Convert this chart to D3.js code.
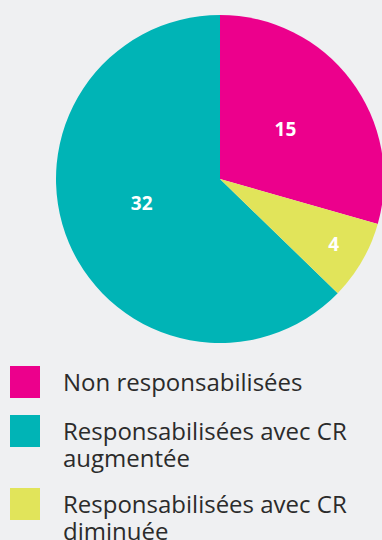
<!DOCTYPE html>
<html>
<head>
<meta charset="utf-8">
<script src="https://cdn.jsdelivr.net/npm/d3@7"></script>
<style>
  body { margin: 0; background: #eff0f2; }
  svg { display: block; }
</style>
</head>
<body>
<div id="chart"></div>
<script>
// data
const categories = ["Non responsabilisées", "Responsabilisées avec CR augmentée", "Responsabilisées avec CR diminuée"];
const values = [15, 32, 4];
const colors = ["#ec008c", "#00b4b6", "#e1e45a"];
// legend labels, split on two lines where the picture does
const legendLines = [["Non responsabilisées"], ["Responsabilisées avec CR", "augmentée"], ["Responsabilisées avec CR", "diminuée"]];
// pie order, clockwise from 12 o'clock
const order = [0, 2, 1];

const width = 382, height = 540;
const cx = 220, cy = 179, radius = 164;

var svg = d3.select("#chart")
    .append("svg")
    .attr("width", width)
    .attr("height", height);

svg.append("rect")
    .attr("width", width)
    .attr("height", height)
    .attr("fill", "#eff0f2");

var pie = d3.pie()
    .sort((a, b) => order.indexOf(a.i) - order.indexOf(b.i))
    .value(d => d.v);

var arcs = pie(values.map((v, i) => ({ v: v, i: i })));

var arc = d3.arc().innerRadius(0).outerRadius(radius);

var g = svg.append("g").attr("transform", "translate(" + cx + "," + cy + ")");

g.selectAll("path")
    .data(arcs)
    .enter().append("path")
    .attr("d", arc)
    .attr("fill", d => colors[d.data.i]);

// small slice gets its label pushed out
g.selectAll("text")
    .data(arcs)
    .enter().append("text")
    .attr("transform", function(d) {
        var r = d.data.v < 8 ? radius * 0.8 : radius * 0.5;
        var a = d3.arc().innerRadius(r).outerRadius(r);
        // big slice label sits a bit nearer its upper edge
        var c = a.centroid(d.data.v > 20 ? { startAngle: d.startAngle, endAngle: d.endAngle + 0.2 } : d);
        return "translate(" + c + ")";
    })
    .attr("text-anchor", "middle")
    .attr("dy", "0.35em")
    .attr("fill", "#fff")
    .style("font-family", "'Open Sans', sans-serif")
    .style("font-weight", "bold")
    .style("font-size", "19px")
    .text(d => d.data.v);

// legend
var legendY = [366, 415, 488];
var legend = svg.selectAll(".legend")
    .data(categories)
    .enter().append("g")
    .attr("class", "legend")
    .attr("transform", (d, i) => "translate(10," + legendY[i] + ")");

legend.append("rect")
    .attr("width", 30)
    .attr("height", 32)
    .attr("fill", (d, i) => colors[i]);

legend.append("text")
    .attr("x", 53)
    .attr("y", 25)
    .attr("fill", "#2b2b2b")
    .style("font-family", "'Open Sans', sans-serif")
    .style("font-size", "24px")
    .selectAll("tspan")
    .data((d, i) => legendLines[i])
    .enter().append("tspan")
    .attr("x", 53)
    .attr("dy", (d, j) => j == 0 ? 0 : 27)
    .text(d => d);
</script>
</body>
</html>
